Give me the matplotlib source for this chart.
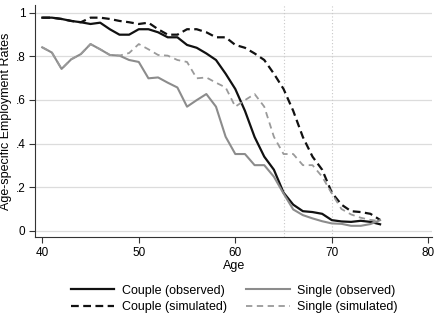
import numpy as np
import matplotlib
matplotlib.use("Agg")
from matplotlib import pyplot as plt

plt.rcParams['font.family'] = ['Liberation Sans', 'DejaVu Sans']

ages = np.arange(40, 76)

couple_obs = [0.977, 0.977, 0.971, 0.962, 0.956, 0.948, 0.954, 0.924, 0.899, 0.899,
              0.924, 0.924, 0.910, 0.887, 0.887, 0.852, 0.839, 0.813, 0.783, 0.72,
              0.65, 0.55, 0.43, 0.34, 0.28, 0.175, 0.12, 0.09, 0.086, 0.078,
              0.049, 0.043, 0.041, 0.046, 0.041, 0.03]
couple_sim = [0.977, 0.977, 0.971, 0.962, 0.956, 0.977, 0.977, 0.971, 0.962, 0.956,
              0.948, 0.954, 0.924, 0.899, 0.899, 0.924, 0.924, 0.910, 0.887, 0.887,
              0.852, 0.839, 0.813, 0.783, 0.72, 0.65, 0.55, 0.43, 0.34, 0.28,
              0.175, 0.12, 0.09, 0.086, 0.078, 0.05]
single_obs = [0.841, 0.817, 0.742, 0.786, 0.810, 0.856, 0.832, 0.806, 0.803, 0.783,
              0.774, 0.699, 0.703, 0.679, 0.657, 0.569, 0.599, 0.627, 0.569, 0.431,
              0.352, 0.352, 0.301, 0.301, 0.248, 0.171, 0.098, 0.072, 0.057, 0.044,
              0.034, 0.032, 0.023, 0.023, 0.031, 0.049]
single_sim = [0.841, 0.817, 0.742, 0.786, 0.810, 0.856, 0.832, 0.806, 0.803, 0.815,
              0.856, 0.832, 0.806, 0.803, 0.783, 0.774, 0.699, 0.703, 0.679, 0.657,
              0.569, 0.599, 0.627, 0.569, 0.431, 0.352, 0.352, 0.301, 0.301, 0.248,
              0.171, 0.10, 0.075, 0.06, 0.05, 0.045]

xticks = [40, 50, 60, 70, 80]
yticks = [0, 0.2, 0.4, 0.6, 0.8, 1]
ytick_labels = ['0', '.2', '.4', '.6', '.8', '1']

fig = plt.figure(figsize=(4.36, 3.13), dpi=100)
ax = fig.add_axes([0.0803, 0.243, 0.911, 0.741])

for y in yticks:
    ax.axhline(y, color='#dcdcdc', lw=0.9, zorder=0)
for x in [65, 70]:
    ax.axvline(x, color='#c8c8c8', lw=0.8, ls=(0, (1, 2)), zorder=0)

l1, = ax.plot(ages, couple_obs, color='#111111', lw=1.6, label='Couple (observed)')
l2, = ax.plot(ages, couple_sim, color='#111111', lw=1.6, ls=(0, (3.5, 2)), label='Couple (simulated)')
l3, = ax.plot(ages, single_obs, color='#8c8c8c', lw=1.5, label='Single (observed)')
l4, = ax.plot(ages, single_sim, color='#9a9a9a', lw=1.3, ls=(0, (3.5, 2.5)), label='Single (simulated)')

ax.set_xlim(39.25, 80.4)
ax.set_ylim(-0.028, 1.035)
ax.set_xticks(xticks)
ax.set_yticks(yticks)
ax.set_yticklabels(ytick_labels)
ax.tick_params(labelsize=8.5, length=4.5, width=0.8, color='#333333', pad=2.5)
for s in ['top', 'right']:
    ax.spines[s].set_visible(False)
for s in ['left', 'bottom']:
    ax.spines[s].set_color('#333333')
    ax.spines[s].set_linewidth(0.8)

ax.set_xlabel('Age', fontsize=9, labelpad=1)
ax.set_ylabel('Age-specific Employment Rates', fontsize=9)
ax.yaxis.set_label_coords(-0.057, 0.5)

fig.legend(handles=[l1, l2, l3, l4], loc='lower center', bbox_to_anchor=(0.537, -0.036),
           ncol=2, frameon=False, fontsize=9, handlelength=3.5, columnspacing=1.55,
           handletextpad=0.58, labelspacing=0.35)

fig.savefig('out.png', dpi=100)
